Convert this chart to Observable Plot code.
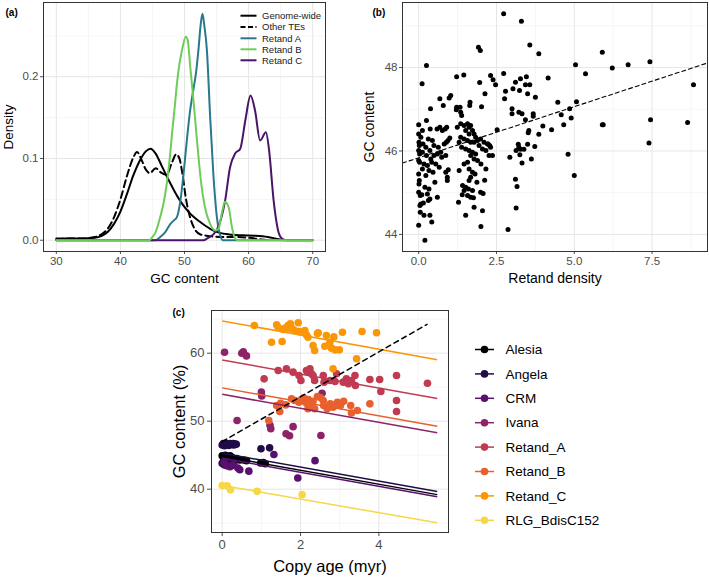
<!DOCTYPE html>
<html><head><meta charset="utf-8">
<script src="https://cdn.jsdelivr.net/npm/d3@7"></script>
<script src="https://cdn.jsdelivr.net/npm/@observablehq/plot@0.6"></script>
<style>
body{margin:0;background:#fff;font-family:"Liberation Sans",Arial,Helvetica,sans-serif;}
#root{position:relative;width:709px;height:578px;overflow:hidden;background:#fff;}
.panel{position:absolute;}
.panel svg{overflow:visible;}
</style></head><body><div id="root"></div>
<script>
const FONT = '"Liberation Sans", Arial, Helvetica, sans-serif';

// ---------------- Panel (a): density of GC content ----------------
const aXTicks = [30, 40, 50, 60, 70];
const aXMinor = [35, 45, 55, 65];
const aYTicks = [0, 0.1, 0.2];
const aYMinor = [0.05, 0.15, 0.25];
const aLegendNames = ["Genome-wide", "Other TEs", "Retand A", "Retand B", "Retand C"];
const aLegendColors = ["#000000", "#000000", "#2A788E", "#6DCD59", "#4A1468"];

const genomeX = [30, 32, 34, 36, 37, 38, 39, 40, 41, 42, 43, 44, 44.7, 45.5, 46.5, 47.5, 48.5, 49.5, 50.5, 51.5, 52.5, 54, 55.5, 57, 59, 61, 63, 64.5, 65.5];
const genomeY = [0.002, 0.002, 0.002, 0.003, 0.005, 0.010, 0.020, 0.035, 0.056, 0.079, 0.097, 0.109, 0.112, 0.106, 0.090, 0.074, 0.059, 0.046, 0.036, 0.028, 0.022, 0.014, 0.009, 0.007, 0.006, 0.0055, 0.004, 0.0015, 0];

const otherX = [30, 32, 34, 36, 37, 38, 39, 40, 41, 42, 42.6, 43.2, 44, 44.6, 45.5, 46.3, 47.2, 48, 48.7, 49.2, 49.7, 50.2, 50.8, 51.5, 52.5, 54, 56, 58, 60, 62, 63];
const otherY = [0.001, 0.002, 0.002, 0.004, 0.007, 0.014, 0.028, 0.050, 0.078, 0.101, 0.108, 0.100, 0.086, 0.082, 0.088, 0.083, 0.080, 0.094, 0.105, 0.100, 0.080, 0.052, 0.030, 0.015, 0.007, 0.005, 0.004, 0.004, 0.003, 0.001, 0];

const retAX = [30, 45.5, 46.2, 47, 47.8, 48.3, 48.8, 49.3, 49.9, 50.4, 50.9, 51.4, 51.8, 52.2, 52.5, 52.8, 53.1, 53.5, 54.0, 54.5, 55.0, 55.5, 56, 70];
const retAY = [0, 0, 0.004, 0.010, 0.020, 0.024, 0.028, 0.045, 0.085, 0.125, 0.160, 0.185, 0.205, 0.235, 0.262, 0.277, 0.262, 0.232, 0.151, 0.081, 0.032, 0.008, 0, 0];

const retBX = [30, 44.5, 45.0, 45.5, 46.2, 46.8, 47.3, 47.7, 48.05, 48.5, 48.8, 49.2, 49.6, 50.2, 50.5, 50.9, 51.4, 51.95, 52.5, 53.2, 54.0, 54.8, 55.3, 55.8, 56.3, 56.9, 57.4, 57.9, 58.4, 70];
const retBY = [0, 0, 0.004, 0.010, 0.028, 0.048, 0.073, 0.100, 0.130, 0.165, 0.190, 0.215, 0.232, 0.249, 0.245, 0.212, 0.171, 0.122, 0.077, 0.040, 0.020, 0.012, 0.014, 0.032, 0.047, 0.040, 0.016, 0.002, 0, 0];

const retCX = [30, 53, 53.5, 55.0, 56.35, 57.1, 57.9, 58.7, 59.5, 60.3, 61.0, 61.8, 62.7, 63.2, 63.9, 64.6, 65.2, 65.8, 70];
const retCY = [0, 0, 0.002, 0.012, 0.049, 0.089, 0.106, 0.112, 0.147, 0.177, 0.159, 0.122, 0.132, 0.110, 0.049, 0.012, 0.002, 0, 0];

function rows(xs, ys) { return xs.map((x, i) => ({x, y: ys[i]})); }

const chartA = Plot.plot({
  width: 330, height: 290,
  marginLeft: 43, marginRight: 5, marginTop: 2, marginBottom: 39,
  style: {fontFamily: FONT, fontSize: "11.5px", color: "#4D4D4D", background: "transparent", overflow: "visible"},
  x: {domain: [28, 72], ticks: aXTicks, tickSize: 3, tickPadding: 2, tickFormat: d3.format("d"), label: null},
  y: {domain: [-0.0138, 0.2908], ticks: aYTicks, tickSize: 3, tickPadding: 2, tickFormat: d3.format(".1f"), label: null},
  marks: [
    Plot.ruleX(aXMinor, {stroke: "#EFEFEF", strokeWidth: 0.6}),
    Plot.ruleY(aYMinor, {stroke: "#EFEFEF", strokeWidth: 0.6}),
    Plot.ruleX(aXTicks, {stroke: "#E6E6E6", strokeWidth: 1}),
    Plot.ruleY(aYTicks, {stroke: "#E6E6E6", strokeWidth: 1}),
    Plot.line(rows(genomeX, genomeY), {x: "x", y: "y", stroke: aLegendColors[0], strokeWidth: 2, curve: "monotone-x"}),
    Plot.line(rows(otherX, otherY), {x: "x", y: "y", stroke: aLegendColors[1], strokeWidth: 2, strokeDasharray: "7,4", curve: "monotone-x"}),
    Plot.line(rows(retAX, retAY), {x: "x", y: "y", stroke: aLegendColors[2], strokeWidth: 2, curve: "monotone-x"}),
    Plot.line(rows(retCX, retCY), {x: "x", y: "y", stroke: aLegendColors[4], strokeWidth: 2, curve: "monotone-x"}),
    Plot.line(rows(retBX, retBY), {x: "x", y: "y", stroke: aLegendColors[3], strokeWidth: 2, curve: "monotone-x"}),
    Plot.frame({stroke: "#333333", strokeWidth: 1}),
    Plot.text(["GC content"], {text: d => d, frameAnchor: "bottom", textAnchor: "middle", lineAnchor: "middle", dy: 27, fontSize: 13.5, fill: "#000"}),
    Plot.text(["Density"], {text: d => d, frameAnchor: "left", textAnchor: "middle", lineAnchor: "middle", dx: -35, rotate: -90, fontSize: 13.5, fill: "#000"}),
    Plot.text(["(a)"], {text: d => d, frameAnchor: "top-left", dx: -38, dy: 10, textAnchor: "start", lineAnchor: "middle", fontWeight: "bold", fontSize: 10, fill: "#000"})
  ]
});
{
  const g = d3.select(chartA).append("g").attr("font-family", FONT).attr("font-size", 9.5).attr("text-anchor", "start");
  const rowY = [15.7, 27, 38.3, 49.3, 60.3];
  aLegendNames.forEach((n, i) => {
    g.append("line").attr("x1", 240.5).attr("x2", 256.5).attr("y1", rowY[i]).attr("y2", rowY[i])
      .attr("stroke", aLegendColors[i]).attr("stroke-width", 2)
      .attr("stroke-dasharray", i === 1 ? "5,2.5" : null);
    g.append("text").attr("x", 262).attr("y", rowY[i]).attr("dy", "0.35em").attr("fill", "#1A1A1A").text(n);
  });
}

// ---------------- Panel (b): GC content vs Retand density ----------------
const bXTicks = [0, 2.5, 5, 7.5];
const bXMinor = [1.25, 3.75, 6.25, 8.75];
const bYTicks = [44, 46, 48];
const bYMinor = [45, 47, 49];
const bFitX = [-0.52, 9.28];
const bFitY = [45.71, 48.11];
const bDensity = [
  2.73,3.30,3.57,3.86,5.90,5.04,5.36,6.22,6.73,7.43,8.83,2.73,2.47,2.79,2.76,3.00,3.00,3.11,3.03,3.24,3.27,3.46,3.43,3.57,3.50,3.75,4.16,3.22,3.32,3.68,3.68,3.43,4.47,5.07,4.85,4.58,4.90,4.66,3.99,4.27,3.86,3.54,3.52,2.52,3.73,3.50,3.20,3.22,3.13,3.27,3.38,3.25,2.93,3.32,3.62,4.80,5.00,3.11,3.16,3.13,2.87,5.90,5.93,7.45,7.40,8.64,
  1.92,1.98,0.25,0.11,1.22,1.45,2.31,2.39,1.96,2.13,2.02,1.65,1.64,1.03,0.98,0.68,0.79,0.38,1.22,1.33,1.38,1.00,0.94,2.23,2.31,2.37,2.00,2.16,1.21,1.35,
  0.00,0.25,0.12,0.37,0.00,0.07,0.31,0.44,0.59,0.68,0.76,0.85,0.90,0.02,0.01,0.14,0.23,0.49,0.63,0.82,0.89,0.71,0.00,0.03,0.12,0.25,0.36,0.49,0.60,0.74,0.87,0.39,0.00,0.03,0.17,0.28,0.42,0.55,0.66,0.12,0.33,0.00,0.23,0.46,0.87,0.92,0.92,0.02,0.01,0.20,0.33,0.28,0.00,0.05,0.60,0.31,0.36,0.04,0.07,0.05,0.17,0.36,0.42,0.00,0.20,0.15,0.10,0.52,0.95,
  1.24,1.35,1.46,1.57,1.62,1.67,1.73,1.51,1.62,1.78,1.83,1.35,1.46,1.57,1.67,1.78,1.89,1.99,2.10,2.21,2.28,1.94,2.05,2.16,2.26,1.30,1.38,1.51,1.62,1.73,1.83,1.67,1.78,1.89,1.57,1.46,1.30,1.62,1.73,1.81,1.67,1.62,1.41,1.51,1.60,1.73,1.46,1.57,1.67,1.99,2.05,1.78,1.51,1.28,2.00,2.07,1.76,1.87,1.40,2.12
];
const bGC = [
  49.29,49.11,48.54,48.33,48.37,48.07,47.85,47.99,48.07,48.14,47.59,47.86,47.59,47.43,47.25,47.01,46.89,47.65,47.49,47.45,47.73,47.78,47.59,47.59,47.37,47.29,47.75,46.93,46.89,46.89,46.83,46.75,47.17,47.18,47.01,46.87,46.79,46.63,46.60,46.51,46.40,46.49,46.44,46.51,46.11,46.16,46.16,46.09,46.01,46.04,46.04,45.91,45.85,45.71,45.81,45.92,45.41,45.32,45.15,44.63,44.12,46.63,46.63,46.75,46.19,46.68,
  48.49,48.41,48.05,47.61,47.78,47.82,47.81,47.71,47.64,47.37,47.06,47.17,47.09,47.33,47.27,47.25,47.09,47.01,47.05,47.05,46.85,46.31,46.25,46.17,46.09,45.89,45.69,45.57,46.99,46.93,
  46.63,46.73,46.49,46.53,46.41,46.33,46.29,46.25,46.53,46.57,46.49,46.53,46.57,46.13,46.21,46.17,46.09,46.13,46.09,46.17,46.21,45.97,46.01,45.93,45.97,45.89,46.01,45.89,45.93,45.85,45.89,45.81,45.77,45.73,45.69,45.65,45.73,45.69,45.61,45.57,45.53,45.45,45.41,45.49,45.49,45.29,45.37,45.29,45.21,45.13,45.09,44.97,45.01,44.93,44.89,44.81,44.85,44.69,44.73,44.53,44.46,44.46,44.30,44.22,43.86,44.75,44.95,45.25,45.55,
  46.57,46.65,46.61,46.65,46.57,46.61,46.49,46.49,46.41,46.41,46.33,46.33,46.29,46.25,46.21,46.21,46.25,46.29,46.21,46.17,46.13,46.13,46.05,46.01,45.89,46.21,46.09,46.05,46.01,45.97,45.93,45.89,45.81,45.77,45.73,45.69,45.53,45.57,45.49,45.45,45.37,45.29,45.17,45.13,45.09,45.05,45.05,44.93,44.89,45.01,44.57,44.65,44.46,44.77,44.19,44.98,44.88,45.25,44.95,45.30
];
const bPoints = bDensity.map((x, i) => ({x, y: bGC[i]}));

const chartB = Plot.plot({
  width: 359, height: 290,
  marginLeft: 52, marginRight: 2, marginTop: 2, marginBottom: 39,
  style: {fontFamily: FONT, fontSize: "11.5px", color: "#4D4D4D", background: "transparent", overflow: "visible"},
  x: {domain: [-0.52, 9.28], ticks: bXTicks, tickSize: 3, tickPadding: 2, tickFormat: d3.format(".1f"), label: null},
  y: {domain: [43.59, 49.56], ticks: bYTicks, tickSize: 3, tickPadding: 2, tickFormat: d3.format("d"), label: null},
  marks: [
    Plot.ruleX(bXMinor, {stroke: "#EFEFEF", strokeWidth: 0.6}),
    Plot.ruleY(bYMinor, {stroke: "#EFEFEF", strokeWidth: 0.6}),
    Plot.ruleX(bXTicks, {stroke: "#E6E6E6", strokeWidth: 1}),
    Plot.ruleY(bYTicks, {stroke: "#E6E6E6", strokeWidth: 1}),
    Plot.dot(bPoints, {x: "x", y: "y", r: 2.5, fill: "#000", stroke: "none"}),
    Plot.line(rows(bFitX, bFitY), {x: "x", y: "y", stroke: "#000", strokeWidth: 1.1, strokeDasharray: "4,3"}),
    Plot.frame({stroke: "#333333", strokeWidth: 1}),
    Plot.text(["Retand density"], {text: d => d, frameAnchor: "bottom", textAnchor: "middle", lineAnchor: "middle", dy: 27, fontSize: 14, fill: "#000"}),
    Plot.text(["GC content"], {text: d => d, frameAnchor: "left", textAnchor: "middle", lineAnchor: "middle", dx: -33, rotate: -90, fontSize: 14, fill: "#000"}),
    Plot.text(["(b)"], {text: d => d, frameAnchor: "top-left", dx: -30, dy: 10, textAnchor: "start", lineAnchor: "middle", fontWeight: "bold", fontSize: 10, fill: "#000"})
  ]
});

// ---------------- Panel (c): GC content vs copy age ----------------
const cXTicks = [0, 2, 4];
const cXMinor = [1, 3, 5];
const cYTicks = [40, 50, 60];
const cYMinor = [35, 45, 55, 65];
const cFamilies = ["Alesia", "Angela", "CRM", "Ivana", "Retand_A", "Retand_B", "Retand_C", "RLG_BdisC152"];
const cColors = cFamilies.map((_, i) => d3.interpolateInferno(0.9 * i / (cFamilies.length - 1)));

const ageAlesia = [0.00, 0.03, 0.08, 0.12, 0.18, 0.20, 0.25, 0.30, 0.37, 0.45, 0.55, 0.62, 0.98, 1.05, 1.10];
const gcAlesia  = [44.9, 44.7, 45.0, 44.8, 44.6, 44.9, 44.7, 44.4, 44.5, 44.3, 44.3, 44.2, 43.85, 43.9, 43.75];
const ageAngela = [0.00, 0.03, 0.06, 0.08, 0.10, 0.12, 0.15, 0.17, 0.20, 0.22, 0.25, 0.28, 0.30, 0.33, 0.36, 0.99, 1.21, 0.00, 0.05, 0.10, 0.15, 0.20, 0.25, 0.30, 0.05, 0.12];
const gcAngela  = [46.5, 46.7, 46.4, 46.6, 46.75, 46.5, 46.65, 46.45, 46.7, 46.55, 46.6, 46.7, 46.5, 46.65, 46.6, 45.94, 46.08, 43.8, 43.6, 44.0, 43.4, 43.7, 43.5, 43.9, 44.1, 44.3];
const ageCRM = [0.05, 0.10, 0.20, 0.28, 0.40, 0.45, 0.68, 1.32, 2.37, 1.93];
const gcCRM  = [43.9, 43.5, 43.3, 43.6, 43.1, 42.85, 42.65, 45.1, 44.2, 41.65];
const ageIvana = [0.06, 0.50, 0.54, 0.62, 1.00, 1.01, 0.38, 1.22, 1.24, 1.63, 1.72, 1.81, 2.52, 2.55];
const gcIvana  = [60.15, 60.0, 60.2, 59.6, 54.3, 53.7, 50.1, 49.4, 48.9, 48.15, 47.85, 49.2, 47.9, 54.1];
const ageRetandA = [1.07, 1.43, 1.64, 1.81, 1.96, 2.01, 2.15, 2.19, 2.24, 2.28, 2.32, 2.36, 2.58, 2.60, 2.75, 2.88, 2.92, 3.09, 3.17, 3.22, 3.30, 3.39, 3.40, 3.77, 4.02, 4.05, 4.45, 4.45, 4.45, 5.24];
const gcRetandA  = [56.23, 57.46, 57.70, 57.21, 56.72, 55.99, 57.46, 57.21, 57.70, 56.97, 56.72, 55.99, 56.72, 55.74, 55.99, 55.84, 56.97, 55.74, 56.23, 55.50, 55.99, 56.72, 55.25, 56.13, 56.13, 54.37, 56.72, 53.04, 51.43, 55.59];
const ageRetandB = [1.49, 1.39, 1.47, 1.77, 1.85, 1.96, 2.08, 2.13, 2.17, 2.19, 2.25, 2.32, 2.36, 2.43, 2.51, 2.58, 2.59, 2.68, 2.76, 2.83, 2.89, 2.94, 3.02, 3.10, 3.28, 3.45, 3.77, 1.19, 1.62, 2.00, 2.20, 3.30];
const gcRetandB  = [52.65, 52.31, 51.43, 53.29, 53.04, 52.79, 53.44, 52.79, 52.55, 51.82, 52.16, 52.94, 51.82, 53.63, 53.44, 53.04, 52.31, 51.82, 52.55, 52.06, 52.41, 52.79, 52.31, 52.94, 52.31, 51.57, 52.55, 50.1, 52.4, 53.1, 53.2, 51.2];
const ageRetandC = [0.82, 1.39, 1.43, 1.60, 1.68, 1.74, 1.79, 1.85, 1.94, 1.96, 2.02, 2.11, 2.15, 2.19, 1.64, 1.56, 1.26, 1.53, 2.32, 2.45, 2.66, 2.36, 2.62, 2.75, 2.79, 2.88, 2.99, 3.07, 3.57, 3.94, 3.43, 2.83, 2.43, 2.85];
const gcRetandC  = [64.07, 64.18, 63.82, 63.68, 64.07, 64.32, 63.58, 63.33, 64.47, 63.19, 63.09, 63.33, 62.70, 62.35, 63.49, 63.49, 61.62, 61.72, 61.13, 63.0, 62.6, 60.39, 61.03, 61.62, 60.74, 60.49, 60.49, 63.09, 63.19, 63.0, 59.18, 57.7, 62.9, 62.4];
const ageRLG = [0.00, 0.13, 0.21, 0.89, 2.04];
const gcRLG  = [40.55, 40.5, 39.9, 39.7, 39.2];

const cAges = [ageAlesia, ageAngela, ageCRM, ageIvana, ageRetandA, ageRetandB, ageRetandC, ageRLG];
const cGCs  = [gcAlesia, gcAngela, gcCRM, gcIvana, gcRetandA, gcRetandB, gcRetandC, gcRLG];
const cPoints = cFamilies.flatMap((f, k) => cAges[k].map((a, i) => ({fam: f, x: a, y: cGCs[k][i]})));

// fitted lines per family (start at age 0, end at the right end) and overall dashed fit
const cFitAge = [0, 5.49];
const cFitStart = [44.85, 45.3, 44.55, 53.95, 59.0, 54.9, 64.75, 40.55];
const cFitEnd   = [39.2, 39.65, 38.9, 48.3, 53.35, 49.25, 59.05, 35.05];
const cFits = cFamilies.map((f, k) => ({fam: f, x1: cFitAge[0], y1: cFitStart[k], x2: cFitAge[1], y2: cFitEnd[k]}));
const cAllAge = [0, 5.23];
const cAllGC = [47.0, 64.25];

const chartC = Plot.plot({
  width: 282, height: 288,
  marginLeft: 41, marginRight: 4, marginTop: 20, marginBottom: 46,
  style: {fontFamily: FONT, fontSize: "13px", color: "#4D4D4D", background: "transparent", overflow: "visible"},
  x: {domain: [-0.273, 5.777], ticks: cXTicks, tickSize: 4, tickPadding: 3, tickFormat: d3.format("d"), label: null},
  y: {domain: [33.63, 66.28], ticks: cYTicks, tickSize: 4, tickPadding: 3, tickFormat: d3.format("d"), label: null},
  color: {domain: cFamilies, range: cColors},
  marks: [
    Plot.ruleX(cXMinor, {stroke: "#EFEFEF", strokeWidth: 0.6}),
    Plot.ruleY(cYMinor, {stroke: "#EFEFEF", strokeWidth: 0.6}),
    Plot.ruleX(cXTicks, {stroke: "#E6E6E6", strokeWidth: 1}),
    Plot.ruleY(cYTicks, {stroke: "#E6E6E6", strokeWidth: 1}),
    Plot.dot(cPoints, {x: "x", y: "y", fill: "fam", r: 3.8, stroke: "none"}),
    Plot.link(cFits, {x1: "x1", y1: "y1", x2: "x2", y2: "y2", stroke: "fam", strokeWidth: 1.5}),
    Plot.line(rows(cAllAge, cAllGC), {x: "x", y: "y", stroke: "#000", strokeWidth: 1.5, strokeDasharray: "5,4"}),
    Plot.frame({stroke: "#333333", strokeWidth: 1}),
    Plot.text(["Copy age (myr)"], {text: d => d, frameAnchor: "bottom", textAnchor: "middle", lineAnchor: "middle", dy: 34.7, fontSize: 16.5, fill: "#000"}),
    Plot.text(["GC content (%)"], {text: d => d, frameAnchor: "left", textAnchor: "middle", lineAnchor: "middle", dx: -32, rotate: -90, fontSize: 16.5, fill: "#000"}),
    Plot.text(["(c)"], {text: d => d, frameAnchor: "top-left", dx: -39, dy: 2, textAnchor: "start", lineAnchor: "middle", fontWeight: "bold", fontSize: 10, fill: "#000"})
  ]
});

// legend for panel (c)
const legendC = d3.create("svg").attr("width", 239).attr("height", 200)
  .attr("font-family", FONT).attr("font-size", 13.5);
cFamilies.forEach((f, i) => {
  const y = 14.5 + 24.4 * i;
  legendC.append("line").attr("x1", 5).attr("x2", 24).attr("y1", y).attr("y2", y)
    .attr("stroke", cColors[i]).attr("stroke-width", 1.5);
  legendC.append("circle").attr("cx", 14.5).attr("cy", y).attr("r", 3.8).attr("fill", cColors[i]);
  legendC.append("text").attr("x", 35.5).attr("y", y).attr("dy", "0.35em").attr("fill", "#000").text(f);
});

// ---------------- assemble ----------------
const root = document.getElementById("root");
function place(node, left, top) {
  const d = document.createElement("div");
  d.className = "panel";
  d.style.left = left + "px";
  d.style.top = top + "px";
  d.appendChild(node);
  root.appendChild(d);
}
place(chartA, 0, 0);
place(chartB, 350, 0);
place(chartC, 170, 290);
place(legendC.node(), 470, 335);
</script></body></html>
